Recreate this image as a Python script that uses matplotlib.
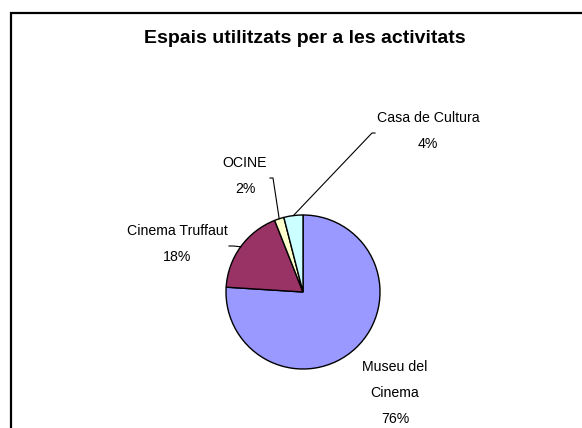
import matplotlib
matplotlib.use("Agg")
import matplotlib.pyplot as plt
from matplotlib.patches import Rectangle
import numpy as np

plt.rcParams['font.family'] = ['Liberation Sans', 'DejaVu Sans']

# data
categories = ["Museu del\nCinema", "Cinema Truffaut", "OCINE", "Casa de Cultura"]
shares = [76, 18, 2, 4]
colors = ["#9999FF", "#993366", "#FFFFCC", "#CCFFFF"]

W, H = 582, 428
fig = plt.figure(figsize=(W / 100, H / 100), dpi=100)
ax = fig.add_axes([0, 0, 1, 1])

# frame (only top and left edges visible in the crop)
ax.add_patch(Rectangle((11, -10), W, H - 13 + 10, fill=False,
                       edgecolor="black", linewidth=1.6, zorder=0))

cx, cy, r = 303, H - 292, 77
wedges, _ = ax.pie(shares, colors=colors, startangle=90, counterclock=False,
                   center=(cx, cy), radius=r, frame=True,
                   wedgeprops=dict(edgecolor="black", linewidth=1.0))
ax.set_xlim(0, W)
ax.set_ylim(0, H)
ax.set_aspect("equal")
ax.axis("off")

ax.text(305, H - 38, "Espais utilitzats per a les activitats",
        ha="center", va="center", fontsize=14, fontweight="bold")

# label centres (pixel coords, y from top) and leader-line elbows
label_pos = {
    "Museu del\nCinema": (395, 393),
    "Cinema Truffaut": (177, 244),
    "OCINE": (245, 176),
    "Casa de Cultura": (428, 131),
}
elbows = {
    "Cinema Truffaut": [(229, 246), (233, 246)],
    "OCINE": [(270, 178), (273, 178)],
    "Casa de Cultura": [(375, 133), (372, 133)],
}

for w, name, val in zip(wedges, categories, shares):
    lx, ly = label_pos[name]
    lines = name.split("\n") + [f"{val}%"]
    n = len(lines)
    for i, s in enumerate(lines):
        ax.text(lx, H - (ly + (i - (n - 1) / 2) * 26), s, ha="center",
                va="center", fontsize=10.2)
    if name in elbows:
        ang = np.deg2rad((w.theta1 + w.theta2) / 2)
        ex, ey = cx + r * np.cos(ang), cy + r * np.sin(ang)
        pts = [(ex, ey)] + [(px, H - py) for px, py in elbows[name][::-1]]
        ax.plot([p[0] for p in pts], [p[1] for p in pts], color="black",
                linewidth=0.8)

fig.savefig("out.png", dpi=100)
